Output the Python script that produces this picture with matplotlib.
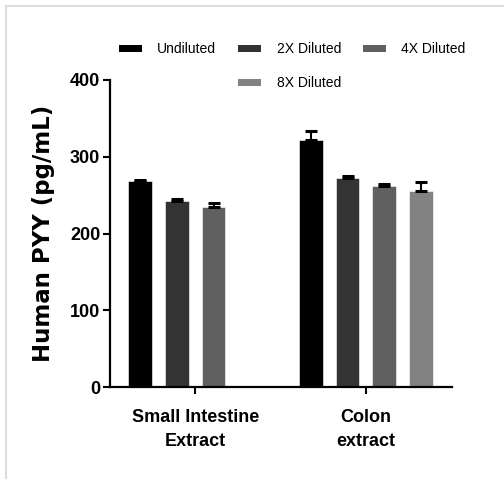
import matplotlib
matplotlib.use("Agg")
import matplotlib.pyplot as plt
from matplotlib.patches import Patch, Rectangle

plt.rcParams['font.family'] = ['Liberation Sans', 'DejaVu Sans']

groups = ['Small Intestine\nExtract', 'Colon\nextract']
dilutions = ['Undiluted', '2X Diluted', '4X Diluted', '8X Diluted']
colors = ['#000000', '#333333', '#606060', '#828282']

# mean and SD per dilution, [small intestine, colon]; no 8X for small intestine
means = {
    'Undiluted': [268, 322],
    '2X Diluted': [242, 272],
    '4X Diluted': [234, 262],
    '8X Diluted': [None, 256],
}
errs = {
    'Undiluted': [2, 11],
    '2X Diluted': [3.5, 3],
    '4X Diluted': [6, 3],
    '8X Diluted': [None, 11],
}

fig = plt.figure(figsize=(5.04, 4.79), dpi=100)
fig.patches.append(Rectangle((6 / 504, -0.1), 1.2, (479 - 6) / 479 + 0.1, transform=fig.transFigure,
                             fill=False, edgecolor='#dddddd', linewidth=1.5))
ax = fig.add_axes([0.218, 0.192, 0.679, 0.641])

step = 0.215
width = 0.138
handles = []
for i, name in enumerate(dilutions):
    xs, ys, es = [], [], []
    for g in range(len(groups)):
        if means[name][g] is None:
            continue
        xs.append(g + (i - 1.5) * step)
        ys.append(means[name][g])
        es.append(errs[name][g])
    ax.bar(xs, ys, width=width, color=colors[i], edgecolor='white', linewidth=0.4)
    ax.errorbar(xs, ys, yerr=[[0] * len(es), es], fmt='none', ecolor='black',
                elinewidth=1.5, capsize=4.3, capthick=2.2)
    handles.append(Patch(facecolor=colors[i], edgecolor='none', label=name))

blank = Patch(facecolor='none', edgecolor='none', label='')
order = [handles[0], blank, handles[1], handles[3], handles[2], blank]
fig.legend(handles=order, labels=[h.get_label() for h in order], ncol=3,
           loc='center', bbox_to_anchor=(0.58, 0.862), frameon=False,
           fontsize=10, handlelength=1.65, handleheight=0.4, handletextpad=1.1,
           columnspacing=1.6, labelspacing=1.45)

ax.set_xlim(-0.5, 1.505)
ax.set_ylim(0, 400)
ax.set_yticks([0, 100, 200, 300, 400])
ax.set_xticks(range(len(groups)))
ax.set_xticklabels(groups, fontsize=13, fontweight='bold', linespacing=1.5)
ax.tick_params(axis='y', labelsize=13, width=1.5, length=5, pad=2)
ax.tick_params(axis='x', width=1.5, length=5, pad=11)
for lab in ax.get_yticklabels():
    lab.set_fontweight('bold')
for s in ['top', 'right']:
    ax.spines[s].set_visible(False)
for s in ['left', 'bottom']:
    ax.spines[s].set_linewidth(1.6)

ax.set_ylabel('Human PYY (pg/mL)', family=['DejaVu Sans'], fontsize=16.5,
              fontweight='bold', labelpad=11)

fig.savefig('out.png', dpi=100)
